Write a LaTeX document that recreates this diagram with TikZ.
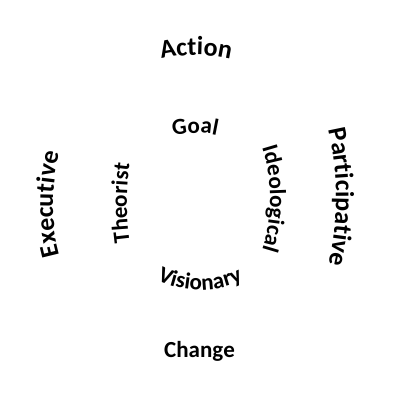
\documentclass[tikz,border=0pt]{standalone}
\usepackage{fontspec}
\setmainfont{Carlito}
\usetikzlibrary{decorations.text}

\newcommand{\bigword}{\fontsize{26}{30}\selectfont\bfseries}
\newcommand{\smallword}{\fontsize{23}{27}\selectfont\bfseries}

\tikzset{every picture/.style={line width=0.75pt},
  bigarc/.style={decorate,decoration={text along path,text align=center,text={|\bigword|#1}}},
  smallarc/.style={decorate,decoration={text along path,text align=center,text={|\smallword|#1}}}}

\begin{document}
\begin{tikzpicture}[x=1pt,y=1pt]
\useasboundingbox (0,0) rectangle (402,402);

%Text on arc: outer words
\path[bigarc=Action] ([shift={(110:150)}]196,197) arc (110:70:150);
\path[bigarc=Executive] ([shift={(200:190)}]243,198) arc (200:160:190);
\path[bigarc=Participative] ([shift={(15:300)}]36,205) arc (15:-15:300);
% Text on line
\path[smallarc=Change] (142,45) -- (257,45);

%Text on arc: inner words
\path[smallarc=Goal] ([shift={(110:100)}]195,169) arc (110:70:100);
\path[smallarc=Visionary] ([shift={(245:100)}]200,212) arc (245:295:100);
\path[smallarc=Theorist] ([shift={(192:300)}]427,199) arc (192:168:300);
\path[smallarc=Ideological] ([shift={(20:170)}]100,203) arc (20:-20:170);

\end{tikzpicture}
\end{document}
